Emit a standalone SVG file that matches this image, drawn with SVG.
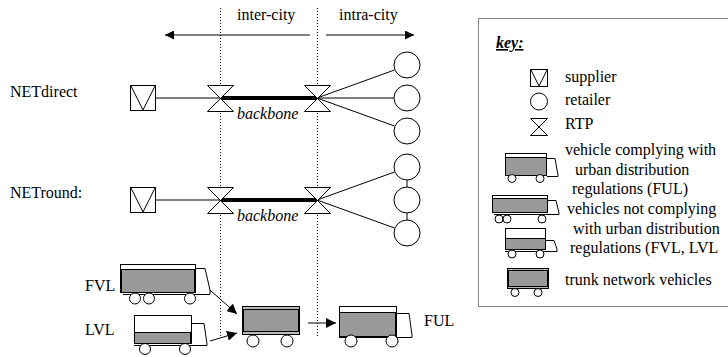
<svg xmlns="http://www.w3.org/2000/svg" width="728" height="357" viewBox="0 0 728 357" font-family="'Liberation Serif', 'Times New Roman', 'DejaVu Serif', serif" font-size="16">
  <style>
    text { fill: #000; }
    .it { font-style: italic; }
    .sym { fill: #fff; stroke: #000; stroke-width: 1; }
    .ln { stroke: #000; stroke-width: 1; fill: none; }
    .dot { stroke: #000; stroke-width: 1; stroke-dasharray: 1 2; fill: none; }
    .bb { stroke: #000; stroke-width: 4; fill: none; }
    .cargo { fill: #999; stroke: #000; stroke-width: 1; }
    .shell { fill: #fff; stroke: #000; stroke-width: 1; }
    .wheel { fill: #fff; stroke: #000; stroke-width: 1; }
    .cab { fill: #fff; stroke: #000; stroke-width: 1; }
  </style>
  <defs>
    <marker id="ah" viewBox="0 0 10 10" refX="10" refY="5" markerWidth="9" markerHeight="9" markerUnits="userSpaceOnUse" orient="auto">
      <path d="M0,0 L10,5 L0,10 Z" fill="#000"/>
    </marker>
    <marker id="ahs" viewBox="0 0 10 10" refX="10" refY="5" markerWidth="10" markerHeight="10" markerUnits="userSpaceOnUse" orient="auto">
      <path d="M0,0 L10,5 L0,10 Z" fill="#000"/>
    </marker>
  </defs>

  <!-- zone boundaries and headings -->
  <g id="zones">
    <line class="dot" x1="220.5" y1="8" x2="220.5" y2="337"/>
    <line class="dot" x1="317.5" y1="8" x2="317.5" y2="337"/>
    <text x="237" y="20">inter-city</text>
    <text x="339" y="20">intra-city</text>
  </g>

  <!-- connectors -->
  <g id="connectors">
    <line class="ln" x1="310" y1="35" x2="165" y2="35" marker-end="url(#ah)"/>
    <line class="ln" x1="326" y1="35" x2="414" y2="35" marker-end="url(#ah)"/>
    <!-- NETdirect -->
    <line class="ln" x1="156" y1="98" x2="220" y2="98"/>
    <line class="bb" x1="220" y1="98" x2="317" y2="98"/>
    <line class="ln" x1="317" y1="98" x2="394.5" y2="70"/>
    <line class="ln" x1="317" y1="98" x2="394" y2="98"/>
    <line class="ln" x1="317" y1="98" x2="394.5" y2="126"/>
    <!-- NETround -->
    <line class="ln" x1="156" y1="200" x2="220" y2="200"/>
    <line class="bb" x1="220" y1="200" x2="317" y2="200"/>
    <line class="ln" x1="317" y1="200" x2="394.5" y2="172"/>
    <line class="ln" x1="317" y1="200" x2="394.5" y2="228"/>
    <line class="ln" x1="407" y1="180" x2="407" y2="187"/>
    <line class="ln" x1="407" y1="213" x2="407" y2="220"/>
    <!-- vehicle transfers -->
    <line class="ln" x1="210" y1="290" x2="237" y2="314" marker-end="url(#ahs)"/>
    <line class="ln" x1="210" y1="341" x2="237" y2="333" marker-end="url(#ahs)"/>
    <line class="ln" x1="308" y1="323" x2="336" y2="323" marker-end="url(#ahs)"/>
  </g>

  <!-- NETdirect row -->
  <text x="10" y="97">NETdirect</text>
  <g id="supplier-direct">
    <rect class="sym" x="130.5" y="85.5" width="25" height="25"/>
    <path class="ln" d="M131,86 L143,110 L155,86"/>
  </g>
  <g id="rtp-direct-1">
    <path class="sym" d="M207.5,85.5 H233.5 L207.5,111.5 H233.5 Z"/>
  </g>
  <g id="rtp-direct-2">
    <path class="sym" d="M304.5,85.5 H330.5 L304.5,111.5 H330.5 Z"/>
  </g>
  <text class="it" x="237" y="119">backbone</text>
  <g id="retailer-d1"><circle class="sym" cx="407" cy="65" r="13"/></g>
  <g id="retailer-d2"><circle class="sym" cx="407" cy="98" r="13"/></g>
  <g id="retailer-d3"><circle class="sym" cx="407" cy="131" r="13"/></g>

  <!-- NETround row -->
  <text x="10" y="198">NETround:</text>
  <g id="supplier-round">
    <rect class="sym" x="130.5" y="187.5" width="25" height="25"/>
    <path class="ln" d="M131,188 L143,212 L155,188"/>
  </g>
  <g id="rtp-round-1">
    <path class="sym" d="M207.5,187.5 H233.5 L207.5,213.5 H233.5 Z"/>
  </g>
  <g id="rtp-round-2">
    <path class="sym" d="M304.5,187.5 H330.5 L304.5,213.5 H330.5 Z"/>
  </g>
  <text class="it" x="237" y="221">backbone</text>
  <g id="retailer-r1"><circle class="sym" cx="407" cy="167" r="13"/></g>
  <g id="retailer-r2"><circle class="sym" cx="407" cy="200" r="13"/></g>
  <g id="retailer-r3"><circle class="sym" cx="407" cy="233" r="13"/></g>

  <!-- vehicles -->
  <text x="85" y="291">FVL</text>
  <g id="truck-fvl">
    <path class="cab" d="M196,268.5 H205 L210,290 V294.5 H196"/>
    <line class="ln" x1="123" y1="294.5" x2="210" y2="294.5"/>
    <rect class="shell" x="120.5" y="264.5" width="75" height="28"/>
    <rect class="cargo" x="121.5" y="269.5" width="73" height="23"/>
    <line x1="195" y1="269" x2="195" y2="293" stroke="#000" stroke-width="2"/>
    <circle class="wheel" cx="135" cy="298.5" r="5.5"/>
    <circle class="wheel" cx="149" cy="298.5" r="5.5"/>
    <circle class="wheel" cx="190" cy="298.5" r="5.5"/>
  </g>

  <text x="85" y="335">LVL</text>
  <g id="truck-lvl">
    <path class="cab" d="M192,323.5 H204 L207,344 V345.5 H192"/>
    <line class="ln" x1="134" y1="345.5" x2="207" y2="345.5"/>
    <rect class="shell" x="134.5" y="315.5" width="57" height="28"/>
    <rect class="cargo" x="134.5" y="332.5" width="57" height="11"/>
    <line x1="191" y1="332" x2="191" y2="344" stroke="#000" stroke-width="2"/>
    <circle class="wheel" cx="145" cy="349" r="5.5"/>
    <circle class="wheel" cx="185" cy="349" r="5.5"/>
  </g>

  <g id="truck-trunk">
    <rect x="242.5" y="306.5" width="57" height="28" fill="#bbb" stroke="#000" stroke-width="1"/>
    <rect class="cargo" x="243.5" y="309.5" width="55" height="22"/>
    <circle class="wheel" cx="253" cy="341" r="6"/>
    <circle class="wheel" cx="287" cy="341" r="6"/>
  </g>

  <g id="truck-ful">
    <path class="cab" d="M397,313.5 H409 L412,335 V337.5 H397"/>
    <line class="ln" x1="339" y1="337.5" x2="412" y2="337.5"/>
    <rect class="shell" x="339.5" y="306.5" width="57" height="30"/>
    <rect class="cargo" x="339.5" y="312.5" width="57" height="24"/>
    <line x1="396" y1="312" x2="396" y2="337" stroke="#000" stroke-width="2"/>
    <circle class="wheel" cx="351" cy="341" r="6"/>
    <circle class="wheel" cx="392" cy="341" r="6"/>
  </g>
  <text x="424" y="326">FUL</text>

  <!-- key -->
  <g id="key">
    <rect x="478.5" y="18.5" width="270" height="288" fill="none" stroke="#888" stroke-width="1"/>
    <text x="496" y="48" font-weight="bold" font-style="italic" text-decoration="underline">key:</text>

    <rect class="sym" x="530.5" y="69.5" width="17" height="17"/>
    <path class="ln" d="M531,70 L539,86 L547,70"/>
    <text x="565" y="82">supplier</text>

    <circle class="sym" cx="539" cy="101.5" r="8.5"/>
    <text x="565" y="105">retailer</text>

    <path class="sym" d="M530.5,118.5 H547.5 L530.5,135.5 H547.5 Z"/>
    <text x="565" y="129">RTP</text>

    <!-- compliant urban vehicle -->
    <path class="cab" d="M547,158.5 H555 L558,175 V176.5 H547"/>
    <rect class="shell" x="505.5" y="153.5" width="41" height="22"/>
    <rect class="cargo" x="505.5" y="157.5" width="41" height="18"/>
    <circle class="wheel" cx="512" cy="178.5" r="4"/>
    <circle class="wheel" cx="540" cy="178.5" r="4"/>
    <text x="565" y="155">vehicle complying with</text>
    <text x="575" y="174.5">urban distribution</text>
    <text x="572" y="194">regulations (FUL)</text>

    <!-- non-compliant vehicles -->
    <path class="cab" d="M548,200.5 H556 L559,213 V214.5 H548"/>
    <line class="ln" x1="494" y1="214.5" x2="559" y2="214.5"/>
    <rect class="shell" x="492.5" y="195.5" width="55" height="17"/>
    <rect class="cargo" x="492.5" y="198.5" width="55" height="14"/>
    <circle class="wheel" cx="499" cy="219" r="4"/>
    <circle class="wheel" cx="507" cy="219" r="4"/>
    <circle class="wheel" cx="542" cy="219" r="4"/>

    <path class="cab" d="M546,240.5 H554 L557,249 V251.5 H546"/>
    <line class="ln" x1="505" y1="251.5" x2="557" y2="251.5"/>
    <rect class="shell" x="505.5" y="228.5" width="40" height="21"/>
    <rect class="cargo" x="505.5" y="238.5" width="40" height="11"/>
    <circle class="wheel" cx="512" cy="254" r="4"/>
    <circle class="wheel" cx="540" cy="254" r="4"/>
    <text x="567" y="214">vehicles not complying</text>
    <text x="573" y="233.5">with urban distribution</text>
    <text x="570" y="253">regulations (FVL, LVL</text>

    <!-- trunk vehicle -->
    <rect x="507.5" y="268.5" width="41" height="20" fill="#bbb" stroke="#000" stroke-width="1"/>
    <rect class="cargo" x="508.5" y="270.5" width="39" height="16"/>
    <circle class="wheel" cx="515" cy="292.5" r="4"/>
    <circle class="wheel" cx="538" cy="292.5" r="4"/>
    <text x="565" y="285">trunk network vehicles</text>
  </g>
</svg>
